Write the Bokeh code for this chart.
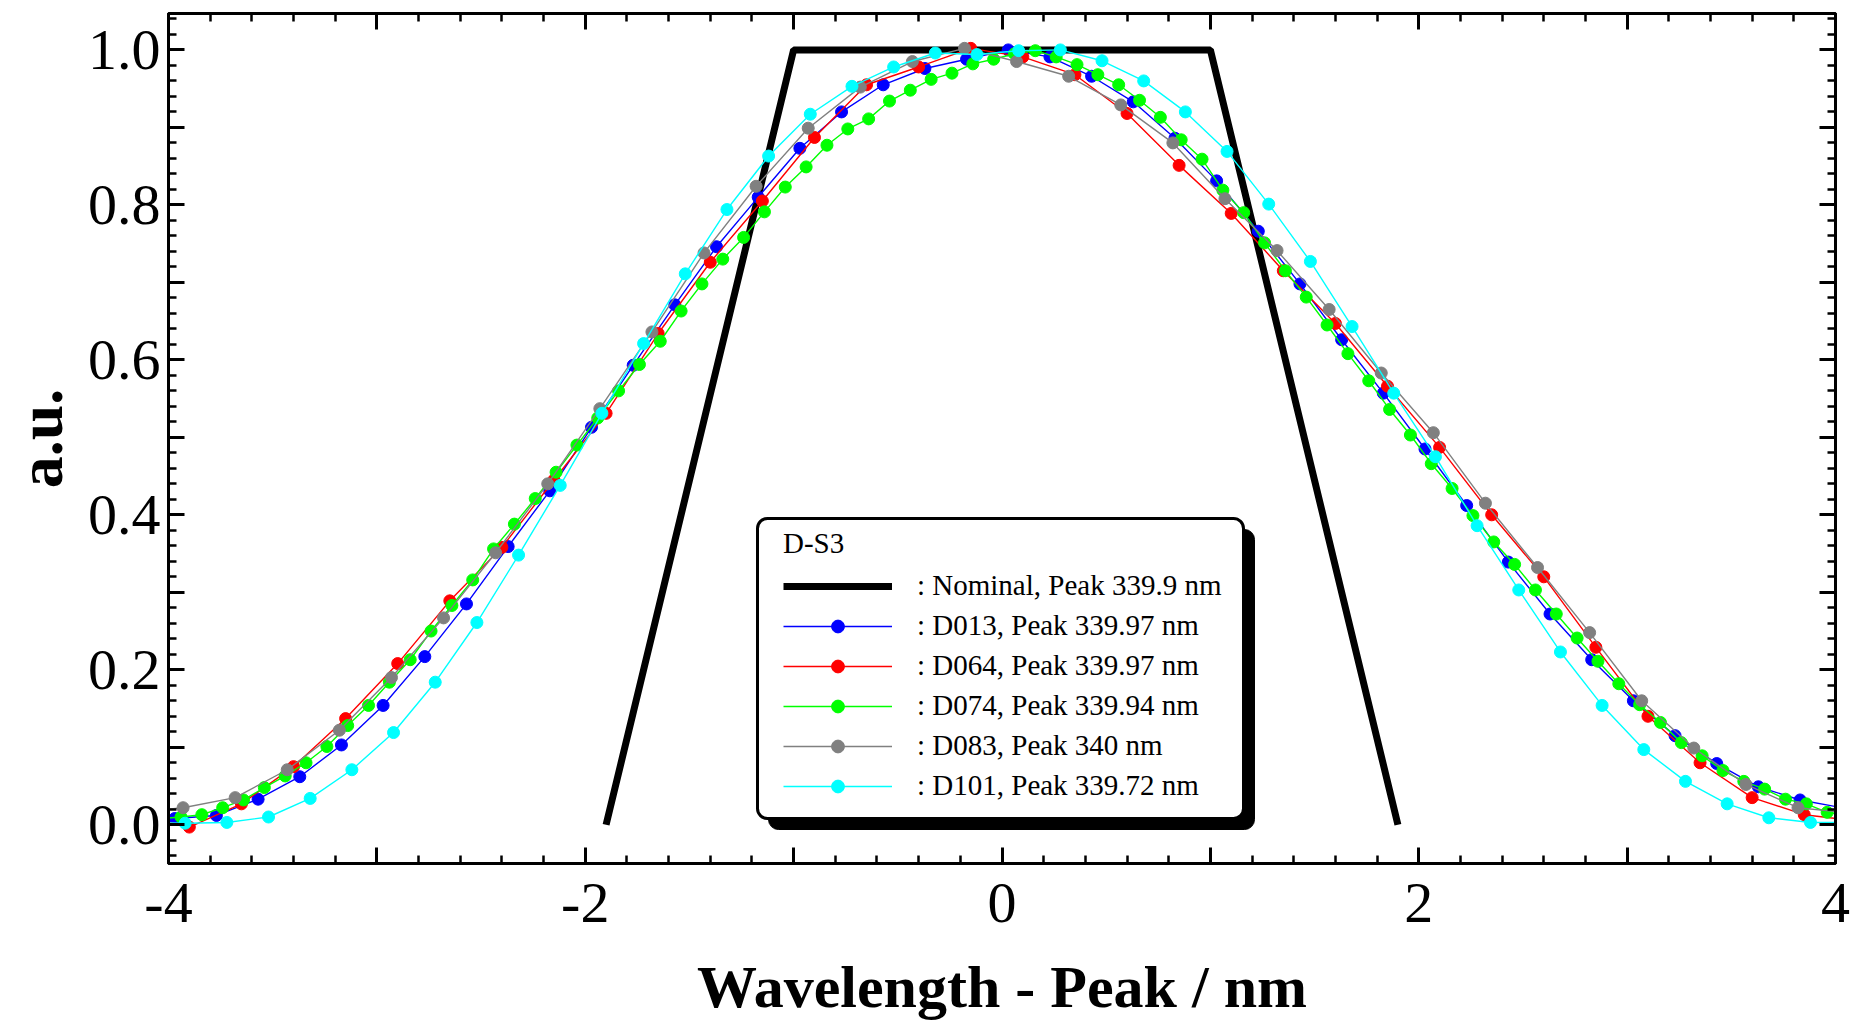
from bokeh.plotting import figure
from bokeh.models import (Range1d, FixedTicker, LinearAxis, CustomJSTickFormatter,
                          Legend, LegendItem, BoxAnnotation)
from bokeh.embed import file_html
from bokeh.resources import INLINE

# ---------------- data ----------------
nominal_x = [-1.9, -1.0, 1.0, 1.9]
nominal_y = [0.0, 1.0, 1.0, 0.0]

d013_x = [-3.97, -3.77, -3.57, -3.37, -3.17, -2.97, -2.77, -2.57, -2.37, -2.17, -1.97,
          -1.77, -1.57, -1.37, -1.17, -0.97, -0.77, -0.57, -0.37, -0.17, 0.03, 0.23,
          0.43, 0.63, 0.83, 1.03, 1.23, 1.43, 1.63, 1.83, 2.03, 2.23, 2.43, 2.63, 2.83,
          3.03, 3.23, 3.43, 3.63, 3.83, 4.03]
d013_y = [0.008, 0.012, 0.033, 0.062, 0.103, 0.154, 0.217, 0.285, 0.359, 0.431, 0.513,
          0.593, 0.671, 0.746, 0.810, 0.873, 0.920, 0.955, 0.976, 0.988, 1.000, 0.991,
          0.966, 0.933, 0.886, 0.831, 0.766, 0.698, 0.626, 0.557, 0.485, 0.412, 0.339,
          0.272, 0.213, 0.160, 0.115, 0.079, 0.049, 0.032, 0.022]

d064_x = [-4.15, -3.9, -3.65, -3.4, -3.15, -2.9, -2.65, -2.4, -2.15, -1.9, -1.65, -1.4,
          -1.15, -0.9, -0.65, -0.4, -0.15, 0.1, 0.35, 0.6, 0.85, 1.1, 1.35, 1.6, 1.85,
          2.1, 2.35, 2.6, 2.85, 3.1, 3.35, 3.6, 3.85, 4.1]
d064_y = [0.012, -0.003, 0.027, 0.075, 0.137, 0.208, 0.289, 0.358, 0.445, 0.531, 0.634,
          0.726, 0.805, 0.887, 0.955, 0.978, 1.002, 0.991, 0.968, 0.918, 0.851, 0.789,
          0.715, 0.647, 0.566, 0.487, 0.400, 0.320, 0.229, 0.140, 0.080, 0.035, 0.013,
          0.005]

d074_x = [-4.04, -3.94, -3.84, -3.74, -3.64, -3.54, -3.44, -3.34, -3.24, -3.14, -3.04,
          -2.94, -2.84, -2.74, -2.64, -2.54, -2.44, -2.34, -2.24, -2.14, -2.04, -1.94,
          -1.84, -1.74, -1.64, -1.54, -1.44, -1.34, -1.24, -1.14, -1.04, -0.94, -0.84,
          -0.74, -0.64, -0.54, -0.44, -0.34, -0.24, -0.14, -0.04, 0.06, 0.16, 0.26,
          0.36, 0.46, 0.56, 0.66, 0.76, 0.86, 0.96, 1.06, 1.16, 1.26, 1.36, 1.46, 1.56,
          1.66, 1.76, 1.86, 1.96, 2.06, 2.16, 2.26, 2.36, 2.46, 2.56, 2.66, 2.76, 2.86,
          2.96, 3.06, 3.16, 3.26, 3.36, 3.46, 3.56, 3.66, 3.76, 3.86, 3.96, 4.06]
d074_y = [0.008, 0.010, 0.013, 0.022, 0.032, 0.048, 0.063, 0.080, 0.101, 0.128, 0.154,
          0.184, 0.213, 0.250, 0.283, 0.316, 0.356, 0.388, 0.421, 0.455, 0.490, 0.525,
          0.560, 0.594, 0.624, 0.663, 0.698, 0.730, 0.758, 0.791, 0.823, 0.849, 0.877,
          0.898, 0.911, 0.934, 0.948, 0.962, 0.970, 0.982, 0.988, 0.995, 0.999, 0.991,
          0.981, 0.968, 0.955, 0.935, 0.913, 0.884, 0.859, 0.819, 0.790, 0.751, 0.715,
          0.681, 0.645, 0.608, 0.573, 0.536, 0.503, 0.466, 0.434, 0.399, 0.365, 0.336,
          0.303, 0.272, 0.241, 0.211, 0.182, 0.155, 0.132, 0.106, 0.089, 0.070, 0.056,
          0.046, 0.033, 0.027, 0.016, 0.012]

d083_x = [-4.18, -3.93, -3.68, -3.43, -3.18, -2.93, -2.68, -2.43, -2.18, -1.93, -1.68,
          -1.43, -1.18, -0.93, -0.68, -0.43, -0.18, 0.07, 0.32, 0.57, 0.82, 1.07, 1.32,
          1.57, 1.82, 2.07, 2.32, 2.57, 2.82, 3.07, 3.32, 3.57, 3.82, 4.07]
d083_y = [0.015, 0.022, 0.035, 0.071, 0.122, 0.190, 0.267, 0.351, 0.440, 0.537, 0.636,
          0.738, 0.824, 0.899, 0.952, 0.985, 1.002, 0.985, 0.966, 0.929, 0.880, 0.808,
          0.741, 0.665, 0.583, 0.506, 0.415, 0.332, 0.248, 0.160, 0.099, 0.052, 0.022,
          0.015]

d101_x = [-4.12, -3.92, -3.72, -3.52, -3.32, -3.12, -2.92, -2.72, -2.52, -2.32, -2.12,
          -1.92, -1.72, -1.52, -1.32, -1.12, -0.92, -0.72, -0.52, -0.32, -0.12, 0.08,
          0.28, 0.48, 0.68, 0.88, 1.08, 1.28, 1.48, 1.68, 1.88, 2.08, 2.28, 2.48, 2.68,
          2.88, 3.08, 3.28, 3.48, 3.68, 3.88, 4.08]
d101_y = [0.003, 0.002, 0.003, 0.010, 0.034, 0.071, 0.119, 0.184, 0.261, 0.348, 0.438,
          0.531, 0.621, 0.711, 0.794, 0.863, 0.917, 0.953, 0.978, 0.996, 0.994, 0.999,
          1.000, 0.986, 0.960, 0.920, 0.869, 0.801, 0.727, 0.643, 0.557, 0.475, 0.386,
          0.303, 0.223, 0.154, 0.097, 0.056, 0.027, 0.009, 0.003, 0.003]

series = [
    (d013_x, d013_y, "#0000FF", ": D013, Peak 339.97 nm"),
    (d064_x, d064_y, "#FF0000", ": D064, Peak 339.97 nm"),
    (d074_x, d074_y, "#00FF00", ": D074, Peak 339.94 nm"),
    (d083_x, d083_y, "#808080", ": D083, Peak 340 nm"),
    (d101_x, d101_y, "#00FFFF", ": D101, Peak 339.72 nm"),
]
nominal_label = ": Nominal, Peak 339.9 nm"
legend_title = "D-S3"
x_title = "Wavelength - Peak / nm"
y_title = "a.u."

x_major = [-4, -3, -2, -1, 0, 1, 2, 3, 4]
y_major = [0.0, 0.1, 0.2, 0.3, 0.4, 0.5, 0.6, 0.7, 0.8, 0.9, 1.0]

FONT = "Liberation Serif"

# ---------------- figure ----------------
p = figure(width=1853, height=1024, output_backend="svg", toolbar_location=None,
           x_range=Range1d(-4, 4), y_range=Range1d(-0.05, 1.047),
           x_axis_type=None, y_axis_type=None,
           min_border_left=168, min_border_right=18, min_border_top=13,
           min_border_bottom=161)
p.xgrid.visible = False
p.ygrid.visible = False
p.outline_line_color = "black"
p.outline_line_width = 3
p.background_fill_color = "white"
p.border_fill_color = "white"

x_minor = [round(-4 + 0.2 * i, 1) for i in range(41)]
y_minor = [round(-0.04 + 0.02 * i, 2) for i in range(55)]


def style_axis(ax):
    ax.axis_line_width = 3
    ax.axis_line_color = "black"
    ax.major_tick_in = 16
    ax.major_tick_out = 0
    ax.minor_tick_in = 8
    ax.minor_tick_out = 0
    ax.major_tick_line_width = 3
    ax.minor_tick_line_width = 2.5
    ax.major_tick_line_color = "black"
    ax.minor_tick_line_color = "black"
    ax.major_label_text_font = FONT
    ax.major_label_text_font_size = "58px"
    ax.major_label_text_color = "black"
    ax.axis_label_text_font = FONT
    ax.axis_label_text_font_size = "60px"
    ax.axis_label_text_font_style = "bold"
    ax.axis_label_text_color = "black"


xfmt = CustomJSTickFormatter(code="return (Math.round(tick) % 2 === 0) ? tick.toFixed(0) : '';")
yfmt = CustomJSTickFormatter(code="const k = Math.round(tick*10); return (k % 2 === 0) ? tick.toFixed(1) : '';")
nofmt = CustomJSTickFormatter(code="return '';")

xb = LinearAxis(ticker=FixedTicker(ticks=x_major, minor_ticks=x_minor), formatter=xfmt,
                axis_label=x_title)
style_axis(xb)
xb.major_label_standoff = 20
xb.axis_label_standoff = 29
p.add_layout(xb, "below")

yl = LinearAxis(ticker=FixedTicker(ticks=y_major, minor_ticks=y_minor), formatter=yfmt,
                axis_label=y_title)
style_axis(yl)
yl.axis_label_text_font_size = "64px"
yl.major_label_standoff = 8
yl.axis_label_standoff = 9
p.add_layout(yl, "left")

xt = LinearAxis(ticker=FixedTicker(ticks=x_major, minor_ticks=x_minor), formatter=nofmt)
style_axis(xt)
xt.major_label_text_font_size = "1px"
xt.major_label_standoff = 0
p.add_layout(xt, "above")

yr = LinearAxis(ticker=FixedTicker(ticks=y_major, minor_ticks=y_minor), formatter=nofmt)
style_axis(yr)
yr.major_label_text_font_size = "1px"
yr.major_label_standoff = 0
p.add_layout(yr, "right")

# ---------------- glyphs ----------------
items = []
r_nom = p.line(nominal_x, nominal_y, line_width=7, color="black")
items.append(LegendItem(label=nominal_label, renderers=[r_nom]))
for xs, ys, col, lab in series:
    rl = p.line(xs, ys, line_width=1.4, color=col)
    rs = p.scatter(xs, ys, size=12, marker="circle", fill_color=col, line_color=col)
    items.append(LegendItem(label=lab, renderers=[rl, rs]))

# ---------------- legend box ----------------
shadow = BoxAnnotation(left=600, right=1086, top=334, bottom=34,
                       left_units="screen", right_units="screen",
                       top_units="screen", bottom_units="screen",
                       fill_color="black", fill_alpha=1.0, line_color="black",
                       line_alpha=1.0, line_width=1, border_radius=10)
box = BoxAnnotation(left=589, right=1075, top=345, bottom=45,
                    left_units="screen", right_units="screen",
                    top_units="screen", bottom_units="screen",
                    fill_color="white", fill_alpha=1.0, line_color="black",
                    line_alpha=1.0, line_width=3, border_radius=10)
p.add_layout(shadow)
p.add_layout(box)

legend = Legend(items=items, location=(615, 61), title=legend_title,
                title_text_font=FONT, title_text_font_size="29px",
                title_text_font_style="normal", title_text_color="black",
                title_standoff=9,
                label_text_font=FONT, label_text_font_size="29px",
                label_text_color="black",
                glyph_width=109, glyph_height=32, label_height=32,
                label_standoff=25, spacing=7, padding=0, margin=0,
                background_fill_alpha=0, border_line_alpha=0)
p.add_layout(legend)

open("out.html", "w").write(file_html(p, INLINE))
